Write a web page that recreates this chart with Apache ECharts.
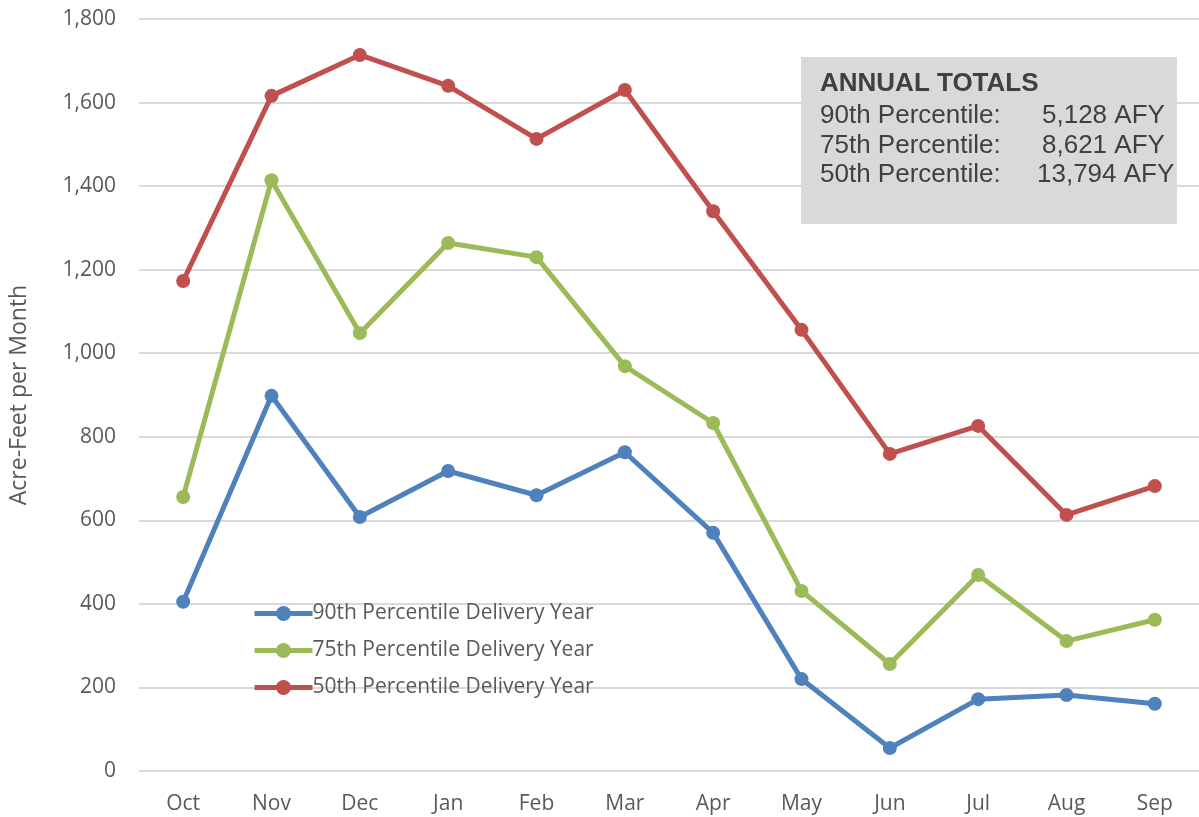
<!DOCTYPE html>
<html>
<head>
<meta charset="utf-8">
<script src="https://cdn.jsdelivr.net/npm/echarts@6/dist/echarts.min.js"></script>
<style>
html,body{margin:0;padding:0;background:#fff;}
#chart{width:1199px;height:817px;}
</style>
</head>
<body>
<div id="chart"></div>
<script>
var months = ['Oct','Nov','Dec','Jan','Feb','Mar','Apr','May','Jun','Jul','Aug','Sep'];
var p90 = [405, 898, 608, 718, 660, 763, 570, 220, 55, 172, 182, 161];
var p75 = [656, 1414, 1048, 1264, 1230, 969, 833, 431, 256, 469, 311, 362];
var p50 = [1173, 1616, 1714, 1640, 1513, 1630, 1340, 1056, 759, 826, 613, 682];
var totalNames = ['90th Percentile:', '75th Percentile:', '50th Percentile:'];
var totalValues = ['5,128 AFY', '8,621 AFY', '13,794 AFY'];

var chart = echarts.init(document.getElementById('chart'));

function mkSeries(name, data, color){
  return {
    name: name,
    type: 'line',
    data: data,
    symbol: 'circle',
    symbolSize: 14,
    lineStyle: {width: 5, color: color},
    itemStyle: {color: color},
    z: 3
  };
}

var boxFont = '26px "Liberation Sans", Arial';
var rowY = [116, 146, 175];
var valX = [1042, 1042, 1037];
var graphics = [{
  type: 'rect', x: 801, y: 57, z: 10,
  shape: {width: 376, height: 167},
  style: {fill: '#d9d9d9'}
}, {
  type: 'text', x: 820, y: 84, z: 11,
  style: {text: 'ANNUAL TOTALS', font: 'bold 26px "Liberation Sans", Arial', fill: '#404040', verticalAlign: 'middle'}
}];
for (var i = 0; i < totalNames.length; i++) {
  graphics.push({
    type: 'text', x: 820, y: rowY[i], z: 11,
    style: {text: totalNames[i], font: boxFont, fill: '#404040', verticalAlign: 'middle'}
  });
  graphics.push({
    type: 'text', x: valX[i], y: rowY[i], z: 11,
    style: {text: totalValues[i], font: boxFont, fill: '#404040', verticalAlign: 'middle'}
  });
}

chart.setOption({
  animation: false,
  grid: {left: 139, top: 19, width: 1068, height: 752, containLabel: false},
  legend: {
    orient: 'vertical',
    left: 252, top: 603,
    padding: 0,
    itemWidth: 58, itemHeight: 19,
    itemGap: 16,
    lineStyle: {width: 5},
    textStyle: {fontFamily: '"Open Sans", sans-serif', fontSize: 21, color: '#595959', padding: [0,0,0,-5]},
    data: ['90th Percentile Delivery Year','75th Percentile Delivery Year','50th Percentile Delivery Year']
  },
  xAxis: {
    type: 'category',
    data: months,
    boundaryGap: true,
    axisLine: {show: false},
    axisTick: {show: false},
    axisLabel: {fontFamily: '"Open Sans", sans-serif', fontSize: 21, color: '#595959', margin: 23}
  },
  yAxis: {
    type: 'value',
    min: 0, max: 1800, interval: 200,
    name: 'Acre-Feet per Month',
    nameLocation: 'middle',
    nameGap: 108,
    nameTextStyle: {fontFamily: '"Open Sans", sans-serif', fontSize: 23, color: '#595959'},
    axisLabel: {
      fontFamily: '"Open Sans", sans-serif', fontSize: 21, color: '#595959', margin: 23,
      formatter: function(v){ return v.toLocaleString('en-US'); }
    },
    splitLine: {lineStyle: {color: '#d9d9d9', width: 2}}
  },
  graphic: graphics,
  series: [
    mkSeries('90th Percentile Delivery Year', p90, '#4f81bd'),
    mkSeries('75th Percentile Delivery Year', p75, '#9bbb59'),
    mkSeries('50th Percentile Delivery Year', p50, '#c0504d')
  ]
});
</script>
</body>
</html>
